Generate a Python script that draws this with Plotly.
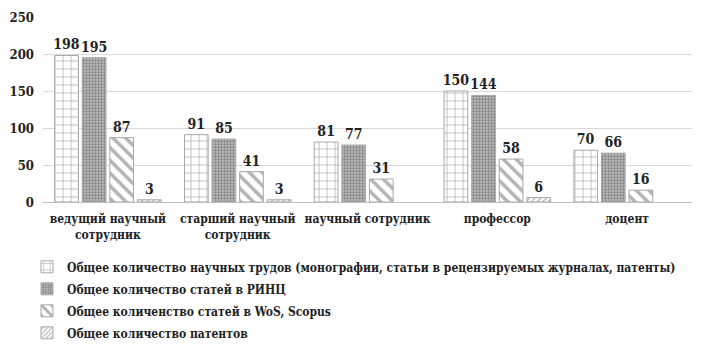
import plotly.graph_objects as go

categories = ["ведущий научный<br>сотрудник", "старший научный<br>сотрудник", "научный сотрудник", "профессор", "доцент"]
series_names = [
    "Общее количество научных трудов (монографии, статьи в рецензируемых журналах, патенты)",
    "Общее количество статей в РИНЦ",
    "Общее количенство статей в WoS, Scopus",
    "Общее количество патентов",
]
trudy = [198, 91, 81, 150, 70]
rinc = [195, 85, 77, 144, 66]
wos = [87, 41, 31, 58, 16]
patents = [3, 3, None, 6, None]
y_ticks = [0, 50, 100, 150, 200, 250]

series = [trudy, rinc, wos, patents]
patterns = [
    dict(shape="+", fgcolor="#707070", bgcolor="white", size=8, solidity=0.2),
    dict(shape=".", fgcolor="#454545", bgcolor="#bcbcbc", size=3, solidity=0.45),
    dict(shape="\\", fgcolor="#6a6a6a", bgcolor="white", size=9, solidity=0.4),
    dict(shape="/", fgcolor="#808080", bgcolor="white", size=4, solidity=0.4),
]

font_family = "DejaVu Serif Condensed, DejaVu Serif"
fig = go.Figure()
for i, (name, vals, pat) in enumerate(zip(series_names, series, patterns)):
    fig.add_trace(go.Bar(
        x=categories, y=vals, name=name, legendgroup="g%d" % i,
        marker=dict(color="white", pattern=pat, line=dict(color="#a8a8a8", width=1)),
        text=[("%d" % v) if v is not None else "" for v in vals],
        textposition="outside", cliponaxis=False, constraintext="none",
        textfont=dict(family=font_family, size=14, color="#222", weight="bold"),
    ))

# the page body adds an 8px offset
W, H = 702, 344
ml, mr, mt, mb = 35, 17.5, 9, 150
pw = W - ml - mr

fig.update_layout(
    width=W, height=H,
    margin=dict(l=ml, r=mr, t=mt, b=mb, autoexpand=False),
    paper_bgcolor="white", plot_bgcolor="white",
    barmode="group", bargap=0.15, bargroupgap=0.14,
    font=dict(family=font_family, size=13, color="#222", weight="bold"),
    showlegend=True,
    legend=dict(orientation="v", x=-16 / pw, xanchor="left", y=-0.272, yanchor="top",
                font=dict(family=font_family, size=12, color="#222", weight="bold"),
                bgcolor="rgba(0,0,0,0)", tracegroupgap=3),
    xaxis=dict(showline=True, linecolor="#bfbfbf", linewidth=1, ticks="", tickangle=0,
               automargin=False, ticklabelstandoff=6,
               tickfont=dict(family=font_family, size=12, color="#222", weight="bold")),
    yaxis=dict(range=[0, 250], tickvals=y_ticks, showgrid=True, gridcolor="#d9d9d9",
               zeroline=False, showline=False, ticks="", ticklabelstandoff=8,
               automargin=False,
               tickfont=dict(family=font_family, size=13, color="#222", weight="bold")),
)

fig.write_html("out.html")
